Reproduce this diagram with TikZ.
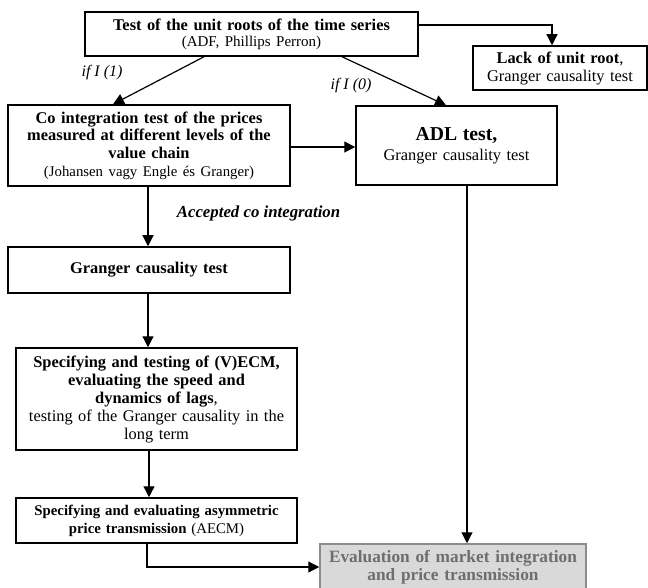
\documentclass[tikz,border=0pt]{standalone}
\usepackage{fontspec}
\setmainfont{Liberation Serif}
\usetikzlibrary{arrows.meta}
\definecolor{evalfill}{HTML}{D9D9D9}
\definecolor{evaldraw}{HTML}{8C8C8C}
\definecolor{evaltext}{HTML}{6E6E6E}
\tikzset{
  box/.style={draw=black, line width=1.5pt, fill=white, align=center, inner sep=2pt,
    font=\fontsize{16.4}{18}\selectfont},
  conn/.style={line width=1.2pt, -{Triangle[length=11pt,width=11pt]}},
  lbl/.style={font=\fontsize{16}{18}\selectfont\itshape, inner sep=0pt},
}
\begin{document}
\begin{tikzpicture}[x=1pt,y=-1pt]
\useasboundingbox (0,0) rectangle (648,588);
\clip (0,0) rectangle (648,588);

\node[box, minimum width=333pt, minimum height=44pt, text width=327pt,
  font=\fontsize{16.4}{16}\selectfont] (top) at (251.5,34)
  {\textbf{Test of the unit roots of the time series}\\{\fontsize{15}{16}\selectfont (ADF, Phillips Perron)}};

\node[box, minimum width=174pt, minimum height=44pt, text width=168pt] (lack) at (560,68)
  {\textbf{Lack of unit root},\\Granger causality test};

\node[box, minimum width=282pt, minimum height=81pt, text width=276pt,
  font=\fontsize{16.4}{17.7}\selectfont] (co) at (149,145.5)
  {\textbf{Co integration test of the prices}\\\textbf{measured at different levels of the}\\\textbf{value chain}\\{\fontsize{14.8}{17.7}\selectfont (Johansen vagy Engle és Granger)}};

\node[box, minimum width=201pt, minimum height=79pt, text width=195pt,
  font=\fontsize{16.4}{20}\selectfont] (adl) at (456.5,145.5)
  {{\fontsize{19.7}{20}\selectfont\bfseries ADL test,}\\Granger causality test};

\node[box, minimum width=282pt, minimum height=46pt, text width=276pt] (granger) at (149,270)
  {\textbf{Granger causality test}};

\node[box, minimum width=281pt, minimum height=102pt, text width=275pt] (vecm) at (156.5,399)
  {\textbf{Specifying and testing of (V)ECM,}\\\textbf{evaluating the speed and}\\\textbf{dynamics of lags},\\testing of the Granger causality in the\\long term};

\node[box, minimum width=281pt, minimum height=45pt, text width=275pt,
  font=\fontsize{14.8}{18}\selectfont] (aecm) at (156.5,520.5)
  {\textbf{Specifying and evaluating asymmetric}\\\textbf{price transmission} (AECM)};

\node[box, draw=evaldraw, fill=evalfill, text=evaltext, minimum width=266pt, minimum height=46pt,
  text width=260pt, font=\fontsize{17.3}{18}\selectfont\bfseries] (eval) at (453,567)
  {Evaluation of market integration\\and price transmission};

\node[lbl] (l1) at (102,73) {if I (1)};
\node[lbl] (l0) at (351,86) {if I (0)};
\node[lbl, font=\fontsize{16.8}{18}\selectfont\bfseries\itshape] (acc) at (258.5,213) {Accepted co integration};

\draw[conn] ([xshift=-47.5pt]top.south) -- ([xshift=-36pt]co.north);
\draw[conn] ([xshift=90.5pt]top.south) -- ([xshift=-10.5pt]adl.north);
\draw[conn] ([yshift=9pt]top.east) -| ([xshift=-8pt]lack.north);
\draw[conn] ([yshift=-1.5pt]co.east) -- ([yshift=-1.5pt]adl.west);
\draw[conn] ([xshift=-1pt]co.south) -- ([xshift=-1pt]granger.north);
\draw[conn] ([xshift=-1pt]granger.south) -- ([xshift=-8.5pt]vecm.north);
\draw[conn] ([xshift=-7.5pt]vecm.south) -- ([xshift=-7.5pt]aecm.north);
\draw[conn] ([xshift=-9.5pt]aecm.south) |- (eval.west);
\draw[conn] ([xshift=10.5pt]adl.south) -- ([xshift=14pt]eval.north);
\end{tikzpicture}
\end{document}
